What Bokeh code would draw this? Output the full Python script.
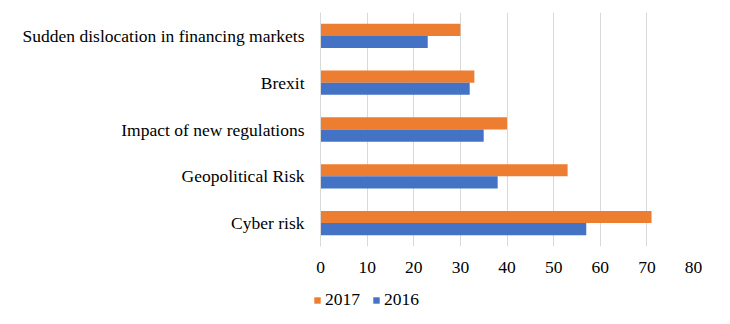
from bokeh.plotting import figure
from bokeh.layouts import column
from bokeh.models import ColumnDataSource, Range1d, FactorRange, Legend, LegendItem, FixedTicker
from bokeh.transform import dodge
from bokeh.embed import file_html
from bokeh.resources import INLINE

categories = ["Cyber risk", "Geopolitical Risk", "Impact of new regulations", "Brexit",
              "Sudden dislocation in financing markets"]
values_2017 = [71, 53, 40, 33, 30]
values_2016 = [57, 38, 35, 32, 23]
x_ticks = [0, 10, 20, 30, 40, 50, 60, 70, 80]
series = ["2017", "2016"]
colors = ["#ED7D31", "#4472C4"]

FONT = "Liberation Serif"
FS = "17.5px"

source = ColumnDataSource(dict(cat=categories, v2017=values_2017, v2016=values_2016))

p = figure(width=730, height=278, output_backend="svg", toolbar_location=None,
           y_range=FactorRange(*categories), x_range=Range1d(0, 80),
           min_border_left=320, min_border_right=37, min_border_top=12, min_border_bottom=32,
           frame_align=False)

p.hbar(y=dodge("cat", 0.13, range=p.y_range), right="v2017", height=0.26,
       source=source, color=colors[0], line_color=None)
p.hbar(y=dodge("cat", -0.13, range=p.y_range), right="v2016", height=0.26,
       source=source, color=colors[1], line_color=None)

p.outline_line_color = None
p.background_fill_color = "white"
p.border_fill_color = "white"

p.xaxis.ticker = FixedTicker(ticks=x_ticks)
p.xaxis.axis_line_color = None
p.xaxis.major_tick_line_color = None
p.xaxis.minor_tick_line_color = None
p.xaxis.major_label_standoff = 9
p.xaxis.major_label_text_font = FONT
p.xaxis.major_label_text_font_size = FS
p.xaxis.major_label_text_color = "black"

p.yaxis.axis_line_color = "#d9d9d9"
p.yaxis.major_tick_line_color = None
p.yaxis.minor_tick_line_color = None
p.yaxis.major_label_standoff = 10
p.yaxis.major_label_text_font = FONT
p.yaxis.major_label_text_font_size = FS
p.yaxis.major_label_text_color = "black"

p.xgrid.grid_line_color = "#d9d9d9"
p.xgrid.ticker = FixedTicker(ticks=x_ticks)
p.ygrid.grid_line_color = None

# legend strip below the chart
lg = figure(width=730, height=46, output_backend="svg", toolbar_location=None,
            x_range=Range1d(0, 80), y_range=FactorRange(*categories),
            x_axis_location=None, y_axis_location=None,
            min_border=0, frame_align=False)
lg.grid.visible = False
lg.outline_line_color = None
items = []
for name, col in zip(series, colors):
    r = lg.hbar(y="cat", right="v" + name, height=0.5, source=source,
                color=col, line_color=None, visible=False)
    items.append(LegendItem(label=name, renderers=[r]))

legend = Legend(items=items, orientation="horizontal", location=(313, 14),
                glyph_width=8, glyph_height=8, spacing=12, padding=0, margin=0,
                label_standoff=4, label_text_font=FONT, label_text_font_size=FS,
                label_text_color="black", border_line_color=None,
                background_fill_alpha=0)
lg.add_layout(legend, "center")

layout = column(p, lg, spacing=0)
open("out.html", "w").write(file_html(layout, INLINE))
